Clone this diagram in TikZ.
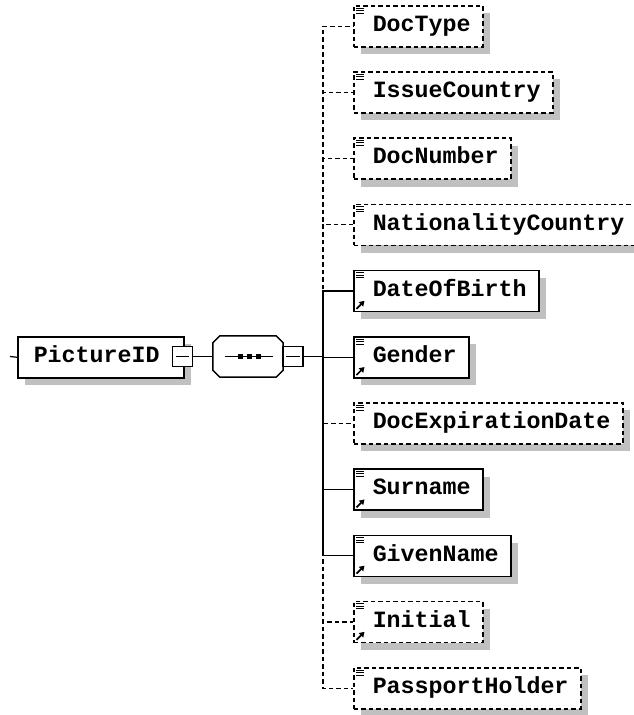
\documentclass[tikz,border=0pt]{standalone}
\usepackage{fontspec}
\setmonofont{Liberation Mono}
\usetikzlibrary{shadows,arrows.meta}
\definecolor{shadowgray}{HTML}{C0C0C0}
\tikzset{
  elemfont/.style={font=\ttfamily\bfseries\fontsize{23.3}{26}\selectfont},
  shadowed/.style={drop shadow={fill=shadowgray,opacity=1,shadow xshift=7.5pt,shadow yshift=-7.5pt}},
  elembox/.style={draw,line width=1.5pt,fill=white,shadowed,anchor=north west,
    minimum height=41pt,inner xsep=0pt,inner ysep=0pt,align=left,elemfont},
  optbox/.style={elembox,dash pattern=on 4.5pt off 3pt},
  conn/.style={line width=1.2pt},
  optconn/.style={conn,dash pattern=on 4.5pt off 3pt},
  minusbox/.style={draw,line width=1.3pt,fill=white,minimum width=20pt,minimum height=20pt,inner sep=0pt},
  seqbox/.style={minimum width=70pt,minimum height=41pt,inner sep=0pt},
}
\newcommand\elemicon[1]{\begin{scope}[shift={(#1.north west)},line width=1pt]
  \draw (3,3)--(11,3) (3,5.5)--(11,5.5) (3,8)--(11,8);\end{scope}}
\newcommand\refarrow[1]{\draw[line width=1.7pt,-{Triangle[length=5pt,width=6pt]}]
  ([shift={(3.5pt,3.5pt)}]#1.south west) -- ++(8pt,8pt);}
\newcommand\octpath[1]{([xshift=7pt]#1.north west) -- ([xshift=-7pt]#1.north east)
  -- ([yshift=-7pt]#1.north east) -- ([yshift=7pt]#1.south east)
  -- ([xshift=-7pt]#1.south east) -- ([xshift=7pt]#1.south west)
  -- ([yshift=7pt]#1.south west) -- ([yshift=-7pt]#1.north west) -- cycle}
\begin{document}
\begin{tikzpicture}[x=1pt,y=-1pt]
\useasboundingbox (0,0) rectangle (634,715);
\clip (0,0) rectangle (634,715);
% root element
\node[elembox,text width=166pt] (pid) at (17,336) {\strut\hspace*{16pt}PictureID};
\node[minusbox] (m1) at (182.5,356.5) {};
\draw[conn] ([xshift=4pt]m1.west) -- ([xshift=-4pt]m1.east);
% sequence compositor
\node[seqbox] (seq) at (248,356.5) {};
\begin{scope}[shift={(7.5pt,-7.5pt)}]
  \fill[shadowgray] \octpath{seq};
\end{scope}
\draw[line width=1.5pt,fill=white] \octpath{seq};
\draw[conn] ([xshift=-23pt]seq.center) -- ([xshift=25pt]seq.center);
\foreach \dx in {-8,1,10}{\fill ([xshift=\dx pt]seq.center) ++(-2.5pt,-2.5pt) rectangle ++(5pt,5pt);}
\node[minusbox] (m2) at (293,356.5) {};
\draw[conn] ([xshift=4pt]m2.west) -- ([xshift=-4pt]m2.east);
\coordinate (stub) at (10,356.5);
\coordinate (bus) at (323,356.5);
% children
\node[optbox,text width=129pt] (c0) at (353,5) {\strut\hspace*{19pt}DocType};
\node[optbox,text width=199pt] (c1) at (353,71.2) {\strut\hspace*{19pt}IssueCountry};
\node[optbox,text width=157pt] (c2) at (353,137.4) {\strut\hspace*{19pt}DocNumber};
\node[optbox,text width=283pt] (c3) at (353,203.6) {\strut\hspace*{19pt}NationalityCountry};
\node[elembox,text width=185pt] (c4) at (353,269.8) {\strut\hspace*{19pt}DateOfBirth};
\node[elembox,text width=115pt] (c5) at (353,336) {\strut\hspace*{19pt}Gender};
\node[optbox,text width=269pt] (c6) at (353,402.2) {\strut\hspace*{19pt}DocExpirationDate};
\node[elembox,text width=129pt] (c7) at (353,468.4) {\strut\hspace*{19pt}Surname};
\node[elembox,text width=157pt] (c8) at (353,534.6) {\strut\hspace*{19pt}GivenName};
\node[optbox,text width=129pt] (c9) at (353,600.8) {\strut\hspace*{19pt}Initial};
\node[optbox,text width=227pt] (c10) at (353,667) {\strut\hspace*{19pt}PassportHolder};
\foreach \n in {c0,c1,c2,c3,c4,c5,c6,c7,c8,c9,c10}{\elemicon{\n}}
\foreach \n in {c4,c5,c7,c8,c9}{\refarrow{\n}}
% connectors
\draw[conn] (stub) -- (pid.west);
\draw[conn] (m1.east) -- (seq.west);
\draw[conn] (m2.east) -- (bus);
\foreach \n in {c0,c1,c2,c3,c6,c9,c10}{\draw[optconn] (bus) |- (\n.west);}
\foreach \n in {c4,c5,c7,c8}{\draw[conn] (bus) |- (\n.west);}
\end{tikzpicture}
\end{document}
